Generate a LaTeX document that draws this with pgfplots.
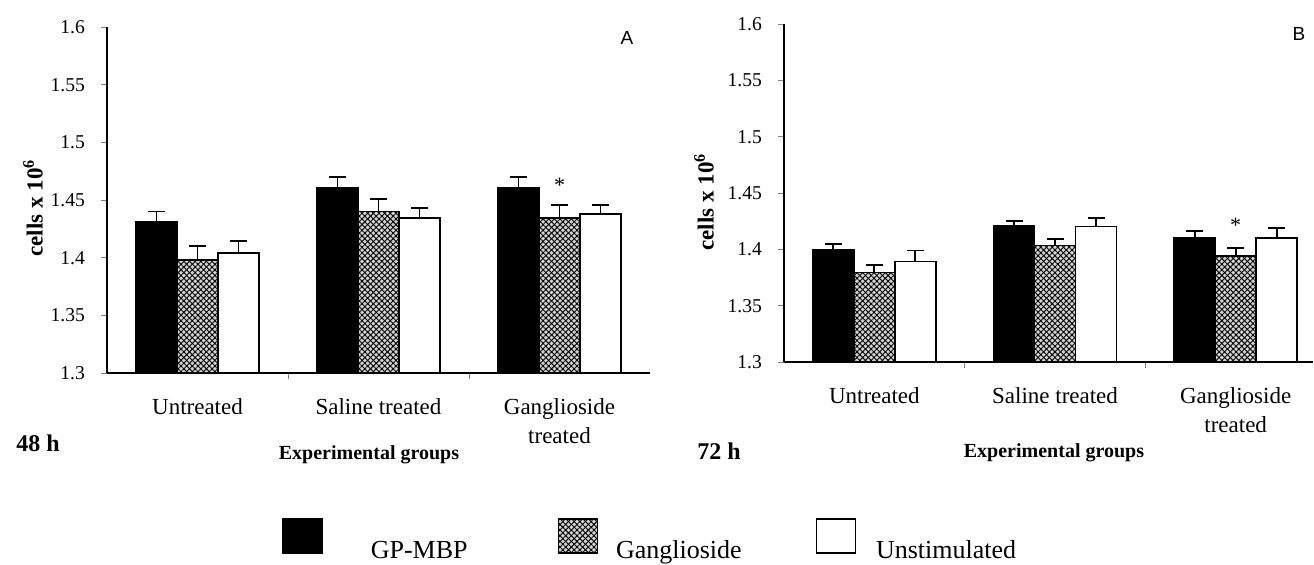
\documentclass[border=0pt]{standalone}
\usepackage{fontspec}
\setmainfont{Liberation Serif}
\newfontfamily\labfont{Liberation Sans}
\usepackage{pgfplots}
\pgfplotsset{compat=1.18}
\usetikzlibrary{patterns.meta}

\pgfplotsset{
  panel/.style={
    scale only axis,
    anchor=south west,
    ybar=0pt,
    bar width=20.5pt,
    xmin=0.5,
    ymin=1.3, ymax=1.6,
    enlargelimits=false,
    axis lines*=left,
    axis line style={line width=0.6pt},
    tick align=outside,
    xtick={1,2,3},
    minor xtick={1.5,2.5},
    major x tick style={draw=none},
    minor tick length=3pt,
    major tick length=3pt,
    ytick={1.3,1.35,1.4,1.45,1.5,1.55,1.6},
    yticklabels={1.3,1.35,1.4,1.45,1.5,1.55,1.6},
    /pgf/number format/assume math mode=true,
    yticklabel style={font=\fontsize{9.8}{12}\selectfont, xshift=-4.5pt},
    xticklabels={Untreated,Saline treated,{Ganglioside\\treated}},
    xticklabel style={font=\fontsize{11.5}{14.5}\selectfont, align=center, anchor=north, yshift=-6pt},
  },
  ebars/.style={
    error bars/y dir=plus, error bars/y explicit,
    error bars/error bar style={line width=0.9pt, black},
    error bars/error mark options={rotate=90, mark size=4.25pt, line width=0.9pt, black},
  },
  blackbar/.style={ebars, fill=black, draw=black, line width=0.7pt},
  greybar/.style={ebars, fill=gray!35, draw=black, line width=0.7pt,
     postaction={pattern={Lines[angle=45,distance=2pt,line width=0.45pt]}},
     postaction={pattern={Lines[angle=-45,distance=2pt,line width=0.45pt]}}},
  whitebar/.style={ebars, fill=white, draw=black, line width=0.7pt},
}

\begin{document}
\begin{tikzpicture}
\useasboundingbox (0,0) rectangle (657pt,282pt);

% ---------- Panel A (48 h) ----------
\begin{axis}[panel, at={(53.5pt,95.5pt)}, width=271.5pt, height=173pt, xmax=3.5,
  legend columns=3,
  legend style={draw=none, fill=none, inner sep=0pt, at={(0.3223,-0.4827)}, anchor=west,
    font=\fontsize{13}{15}\selectfont, nodes={inner sep=0pt}},
  legend image code/.code={\draw[#1] (0pt,-1pt) rectangle (19.5pt,16pt);},
]
\addplot[blackbar] coordinates {(1,1.431) +- (0,0.009) (2,1.461) +- (0,0.009) (3,1.461) +- (0,0.009)};
\addplot[greybar] coordinates {(1,1.398) +- (0,0.012) (2,1.440) +- (0,0.011) (3,1.4345) +- (0,0.0115)};
\addplot[whitebar] coordinates {(1,1.404) +- (0,0.0105) (2,1.4345) +- (0,0.0085) (3,1.438) +- (0,0.008)};
\legend{\rule{24pt}{0pt}GP-MBP\rule{45pt}{0pt},\rule{9pt}{0pt}Ganglioside\rule{37pt}{0pt},\rule{10pt}{0pt}Unstimulated}
\node[font=\fontsize{11}{12}\selectfont] at (axis cs:3,1.4665) [yshift=-2pt] {*};
\end{axis}

% ---------- Panel B (72 h) ----------
\begin{axis}[panel, at={(392pt,101pt)}, width=264.5pt, height=169pt, xmax=3.428]
\addplot[blackbar] coordinates {(1,1.400) +- (0,0.005) (2,1.421) +- (0,0.004) (3,1.410) +- (0,0.006)};
\addplot[greybar] coordinates {(1,1.3795) +- (0,0.0065) (2,1.4036) +- (0,0.0054) (3,1.394) +- (0,0.007)};
\addplot[whitebar] coordinates {(1,1.389) +- (0,0.010) (2,1.4205) +- (0,0.0075) (3,1.410) +- (0,0.009)};
\node[font=\fontsize{11}{12}\selectfont] at (axis cs:3,1.425) [yshift=-2pt] {*};
\end{axis}

% ---------- labels ----------
\node[rotate=90, font=\bfseries\fontsize{11.5}{13}\selectfont] at (16.5pt,178pt) {cells x 10\textsuperscript{6}};
\node[rotate=90, font=\bfseries\fontsize{11.5}{13}\selectfont] at (352pt,181pt) {cells x 10\textsuperscript{6}};
\node[font=\bfseries\fontsize{10}{12}\selectfont] at (184.5pt,54.5pt) {Experimental groups};
\node[font=\bfseries\fontsize{10}{12}\selectfont] at (527pt,55.5pt) {Experimental groups};
\node[font=\bfseries\fontsize{12}{14}\selectfont] at (19pt,60.5pt) {48 h};
\node[font=\bfseries\fontsize{12}{14}\selectfont] at (359.5pt,56.5pt) {72 h};
\node[font=\labfont\fontsize{9.5}{11}\selectfont] at (313.5pt,263pt) {A};
\node[font=\labfont\fontsize{9.5}{11}\selectfont] at (649.5pt,265pt) {B};
\end{tikzpicture}
\end{document}
